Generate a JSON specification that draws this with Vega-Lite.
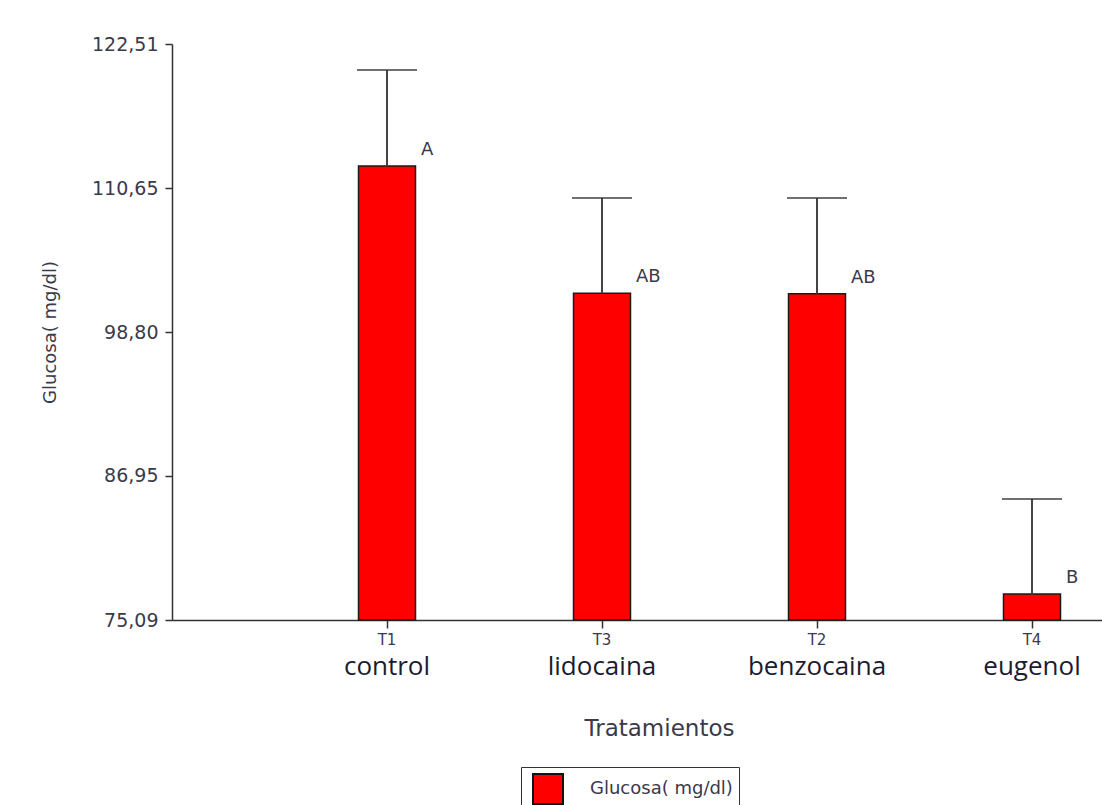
{
  "$schema": "https://vega.github.io/schema/vega-lite/v6.json",
  "width": 930,
  "height": 576,
  "autosize": {"type": "none"},
  "padding": {"left": 172, "top": 44, "right": 0, "bottom": 185},
  "background": "white",
  "config": {"view": {"stroke": null}},
  "data": {
    "values": [
      {"codigo": "T1", "tratamiento": "control", "media": 112.47, "superior": 120.37, "letra": "A"},
      {"codigo": "T3", "tratamiento": "lidocaina", "media": 102.0, "superior": 109.83, "letra": "AB"},
      {"codigo": "T2", "tratamiento": "benzocaina", "media": 101.95, "superior": 109.83, "letra": "AB"},
      {"codigo": "T4", "tratamiento": "eugenol", "media": 77.23, "superior": 85.05, "letra": "B"}
    ]
  },
  "resolve": {"axis": {"x": "independent"}},
  "layer": [
    {
      "mark": {"type": "bar", "width": 57, "stroke": "#1a1a1a", "strokeWidth": 1.5},
      "encoding": {
        "x": {
          "field": "codigo", "type": "nominal", "sort": null,
          "scale": {"type": "band", "paddingInner": 0.7, "paddingOuter": 0.5128, "align": 0.8288},
          "axis": {
            "orient": "bottom", "title": null, "labelAngle": 0,
            "domainColor": "#333333", "domainWidth": 1.5,
            "tickColor": "#333333", "tickWidth": 1.5, "tickSize": 8,
            "labelFont": "DejaVu Sans", "labelFontSize": 15, "labelColor": "#3a3a50", "labelPadding": 4
          }
        },
        "y": {
          "field": "media", "type": "quantitative",
          "scale": {"domain": [75.09, 122.51], "nice": false, "zero": false},
          "axis": {
            "values": [75.09, 86.95, 98.80, 110.65, 122.51],
            "labelExpr": "replace(format(datum.value, '.2f'), '.', ',')",
            "grid": false,
            "domainColor": "#333333", "domainWidth": 1.5,
            "tickColor": "#333333", "tickWidth": 1.5, "tickSize": 7,
            "labelFont": "DejaVu Sans", "labelFontSize": 19, "labelColor": "#3a3a4a", "labelPadding": 7,
            "title": "Glucosa( mg/dl)", "titleFont": "DejaVu Sans", "titleFontSize": 18,
            "titleFontWeight": "normal", "titleColor": "#3a3a4a", "titlePadding": 32
          }
        },
        "y2": {"datum": 75.09},
        "color": {
          "datum": "Glucosa( mg/dl)",
          "scale": {"range": ["#ff0000"]},
          "legend": {
            "orient": "none", "legendX": 349, "legendY": 723,
            "title": null, "symbolType": "square", "symbolSize": 900,
            "symbolStrokeColor": "#111111", "symbolStrokeWidth": 2, "symbolFillColor": "#ff0000",
            "strokeColor": "#333333", "fillColor": "white", "padding": 6, "symbolOffset": 5,
            "labelFont": "DejaVu Sans", "labelFontSize": 18, "labelColor": "#3a3a4a", "labelOffset": 26
          }
        }
      }
    },
    {
      "mark": {"type": "rule", "color": "#444444", "strokeWidth": 2},
      "encoding": {
        "x": {
          "field": "codigo", "type": "nominal", "sort": null,
          "axis": {
            "orient": "bottom", "labelAngle": 0, "domain": false, "ticks": false,
            "labelExpr": "datum.value == 'T1' ? 'control' : datum.value == 'T3' ? 'lidocaina' : datum.value == 'T2' ? 'benzocaina' : 'eugenol'",
            "labelFont": "Open Sans", "labelFontSize": 26, "labelColor": "#1c1c30", "labelPadding": 33,
            "title": "Tratamientos", "titleFont": "DejaVu Sans", "titleFontSize": 23,
            "titleFontWeight": "normal", "titleColor": "#3a3a4a",
            "titleX": 487, "titleY": 108, "titleBaseline": "middle", "titleAlign": "center", "titleAnchor": null
          }
        },
        "y": {"field": "media", "type": "quantitative"},
        "y2": {"field": "superior"}
      }
    },
    {
      "mark": {"type": "tick", "color": "#333333", "size": 60, "thickness": 2},
      "encoding": {
        "x": {"field": "codigo", "type": "nominal", "sort": null, "axis": null},
        "y": {"field": "superior", "type": "quantitative"}
      }
    },
    {
      "mark": {"type": "text", "align": "left", "baseline": "middle", "dx": 34, "dy": -16, "font": "DejaVu Sans", "fontSize": 18, "color": "#3a3a4a"},
      "encoding": {
        "x": {"field": "codigo", "type": "nominal", "sort": null, "axis": null},
        "y": {"field": "media", "type": "quantitative"},
        "text": {"field": "letra"}
      }
    }
  ]
}
